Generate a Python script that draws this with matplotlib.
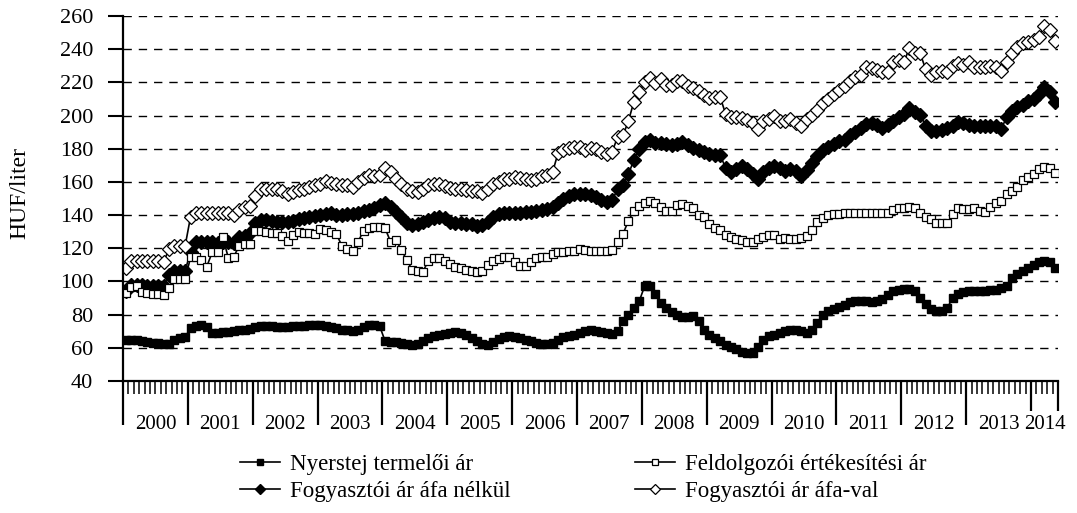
import numpy as np
import matplotlib.pyplot as plt
import matplotlib.transforms as mtransforms

plt.rcParams['font.family'] = ['Liberation Serif', 'DejaVu Serif']

years = ['2000', '2001', '2002', '2003', '2004', '2005', '2006', '2007',
         '2008', '2009', '2010', '2011', '2012', '2013', '2014']

# monthly prices, Jan 2000 - May 2014 (HUF/liter)
nyerstej = [
    65, 65, 64.5, 64, 63.5, 63, 63, 62.5, 62.5, 64.5, 66, 66.5,
    72, 73, 74, 72.5, 69, 69, 69.5, 69.5, 70, 70.5, 71, 71.5,
    72.5, 73, 73, 73, 72.5, 72.5, 72.5, 73, 73, 73, 73.5, 73.5,
    73.5, 73, 72.5, 72, 71, 70.5, 70, 70.5, 72.5, 74, 74, 73,
    64, 63.5, 63.5, 63, 62.5, 62, 62.5, 64, 66, 67, 68, 68.5,
    69, 69.5, 69, 67.5, 66, 64, 62.5, 62, 63.5, 65.5, 66.5, 67,
    66.5, 66, 65, 64, 63, 62.5, 62.5, 63, 64.5, 66.5, 67, 67.5,
    69, 70, 70.5, 70, 69.5, 69, 68.5, 70, 76, 80, 84, 88,
    97, 97, 92.5, 87, 84, 81.5, 80, 78.5, 78.5, 79, 76, 71,
    68, 66, 64, 62, 60.5, 59, 57.5, 57, 57, 60.5, 64.5, 67,
    68, 69, 70, 71, 70.5, 70, 69, 71, 75, 80, 82, 83.5,
    84.5, 86, 87.5, 88, 88.5, 88, 87.5, 88, 89.5, 92, 94, 95,
    95.5, 95.5, 94, 90, 86.5, 83.5, 82, 82, 84, 90, 92.5, 93.5,
    94, 94.5, 94.5, 94.5, 95, 95, 96, 97, 102, 104.5, 106.5, 108,
    110, 112, 112.5, 111.5, 108,
]

feldolgozoi = [
    93, 96.5, 97, 93.5, 93, 92.5, 92.5, 92, 96, 101.5, 101.5, 101.5,
    114.5, 115, 113, 109, 117.5, 118, 126.5, 114, 115, 121.5, 122.5, 122.5,
    130.5, 130.5, 130, 129.5, 129, 127.5, 124.5, 128, 130, 129.5, 129, 128.5,
    131.5, 131, 130, 128.5, 121.5, 119.5, 118.5, 124, 130.5, 132.5, 133, 133,
    132, 124, 125, 119, 113, 107, 106.5, 106, 112.5, 114, 114, 112.5,
    110.5, 109, 108, 107, 106.5, 105.5, 106.5, 110, 112.5, 113.5, 114.5, 114.5,
    112, 109.5, 109.5, 112, 114, 114.5, 115, 116.5, 117.5, 118, 118.5, 118.5,
    119.5, 119, 118.5, 118.5, 118.5, 118.5, 119, 123.5, 128.5, 136.5, 142.5, 145.5,
    147.5, 148.5, 147.5, 145, 142.5, 142.5, 146, 146.5, 145.5, 144.5, 140, 139,
    134.5, 132, 131, 128, 126.5, 125.5, 125, 124, 124, 125.5, 127, 128,
    128, 125.5, 126, 125.5, 125.5, 126, 127.5, 131, 136, 138.5, 140, 140.5,
    140.5, 141, 141, 141.5, 141.5, 141.5, 141.5, 141.5, 141.5, 141, 143, 144,
    144.5, 145, 144, 141.5, 139, 137.5, 135.5, 135.5, 135, 140.5, 144, 143.5,
    143.5, 144, 142.5, 142, 145, 147, 148.5, 152.5, 154.5, 157, 161, 163,
    164.5, 167.5, 169, 168.5, 165.5,
]

fogy_afa_nelkul = [
    94.5, 98, 98, 98, 97.5, 97.5, 97.5, 97.5, 104, 106.5, 106.5, 106.5,
    118, 123.5, 124, 123.5, 123.5, 123, 123.5, 123.5, 123, 126.5, 127.5, 129,
    135.5, 137, 137, 136.5, 136, 136, 136, 136.5, 137.5, 138, 139, 139.5,
    140, 140.5, 141, 140, 140, 140.5, 140.5, 141.5, 142.5, 143, 144.5, 146,
    147.5, 145, 142, 139, 135.5, 134, 134.5, 136, 137, 138.5, 139, 138,
    136, 135.5, 135.5, 134.8, 134.5, 133.5, 134, 136, 139, 140.5, 141, 141,
    141, 141.2, 141.8, 142, 142.2, 143, 143.5, 145, 147.5, 150, 151.5, 152.5,
    152.5, 152.5, 152, 151, 149, 148, 149, 155.5, 158, 164.5, 173, 180,
    184, 185, 183.5, 183.5, 183, 182.5, 183, 184, 182.5, 180.5, 179, 178,
    177, 176.5, 176, 168.5, 166, 167.5, 169.5, 168, 165, 161.5, 166, 168.5,
    169.5, 168.5, 166.5, 167.5, 166.5, 163.5, 167, 171.5, 175.5, 179, 181, 183,
    184.5, 185.5, 188, 190, 192.5, 195, 195.5, 194.5, 192.5, 194.5, 196.5, 199,
    201, 204.5, 202, 200.5, 194, 190.5, 190.5, 191.5, 192.5, 194, 196, 195.5,
    194.5, 194, 194, 194, 194, 193.5, 192, 199, 203, 205, 206.5, 208.5,
    210, 213, 217, 214, 208,
]

fogy_afa_val = [
    108, 112.5, 112.5, 112.5, 112.5, 112.5, 112.5, 111.5, 119.5, 121.5, 121.5, 121.5,
    139, 141, 141, 141, 141, 141, 141, 141, 140, 143, 145, 145.5,
    151.5, 156, 156, 156, 155.5, 154.5, 153, 154, 155, 155.5, 157, 158,
    159, 160.5, 159.5, 158.5, 158, 158, 157, 160, 162.5, 164, 163.5, 164,
    168.5, 166, 162, 159, 156, 154.5, 154, 155.5, 158, 159, 158.5, 157.5,
    156.5, 155.5, 155.5, 155, 154.5, 154.5, 153.5, 155.5, 158.5, 160, 161.5, 162,
    163, 162.5, 161.5, 161, 162, 163.5, 164, 166, 177.5, 179, 180.5, 181,
    181, 179.5, 180.5, 180, 178, 177, 178, 187, 188, 196.5, 208, 214,
    220, 222.5, 219.5, 222, 218.5, 218.5, 221, 221, 218, 216.5, 215, 212.5,
    210.5, 211, 211, 201, 199, 199, 198.5, 197.5, 195.5, 192, 196.5, 198,
    199.5, 197, 197, 198, 195.5, 193.5, 198, 200.5, 203.5, 207.5, 210, 213,
    215.5, 218, 221, 223.5, 224.5, 229, 228.5, 227.5, 226.5, 226, 232, 233.5,
    232, 241, 238, 237.5, 228, 224.5, 226, 227, 226.5, 230, 231.5, 230.5,
    232, 229.5, 229.5, 229.5, 230, 229, 227, 232.5, 237.5, 241.5, 243.5, 244.5,
    245.5, 247.5, 254, 251.5, 245,
]

n = len(nyerstej)
x = np.arange(n)

fig = plt.figure(figsize=(10.77, 5.13), dpi=100)
ax = fig.add_axes([123 / 1077, 132 / 513, 935 / 1077, 365 / 513])

s1, = ax.plot(x, nyerstej, '-', color='black', lw=1.2, marker='s', ms=5.8,
              mfc='black', mec='black', mew=1, label='Nyerstej termelői ár')
s3, = ax.plot(x, fogy_afa_nelkul, '-', color='black', lw=1.2, marker='D', ms=6.8,
              mfc='black', mec='black', mew=1, label='Fogyasztói ár áfa nélkül')
s2, = ax.plot(x, feldolgozoi, '-', color='black', lw=1.2, marker='s', ms=5.8,
              mfc='white', mec='black', mew=0.9, label='Feldolgozói értékesítési ár')
s4, = ax.plot(x, fogy_afa_val, '-', color='black', lw=1.2, marker='D', ms=6.8,
              mfc='white', mec='black', mew=0.9, label='Fogyasztói ár áfa-val')

ax.set_xlim(-0.5, n - 0.5)
ax.set_ylim(40, 260)
ax.set_yticks(np.arange(40, 261, 20))
ax.tick_params(axis='y', direction='out', length=10.5, width=1.5, labelsize=16, pad=11)

for v in np.arange(60, 261, 20):
    ax.axhline(v, color='black', lw=1.0, ls=(0, (6, 5)), zorder=0)

# x axis: month ticks and year boundaries
year_edges = np.arange(0, n, 12) - 0.5
ax.set_xticks(year_edges[:-1])
ax.set_xticks(np.arange(n + 1) - 0.5, minor=True)
ax.tick_params(axis='x', which='major', direction='out', length=32, width=1.6, labelbottom=False)
ax.tick_params(axis='x', which='minor', direction='out', length=9.5, width=1.1)

trans = mtransforms.blended_transform_factory(ax.transData, ax.transAxes)
ax.vlines([year_edges[-1], n - 0.5], -0.082, 0, transform=trans, color='black',
          lw=1.6, clip_on=False)

edges = list(year_edges) + [n - 0.5]
for k, yr in enumerate(years):
    mid = (edges[k] + edges[k + 1]) / 2
    ax.text(mid, -0.118, yr, transform=trans, ha='center', va='center', fontsize=15)

for side in ['top', 'right']:
    ax.spines[side].set_visible(False)
for side in ['left', 'bottom']:
    ax.spines[side].set_linewidth(1.6)

ax.set_ylabel('HUF/liter', fontsize=17)
ax.yaxis.set_label_coords(-0.099, 0.515)

fig.legend(handles=[s1, s3, s2, s4], loc='upper left', bbox_to_anchor=(240 / 1077, 1 - 454 / 513),
           ncol=2, frameon=False, fontsize=16.5, numpoints=1, handlelength=1.75,
           handletextpad=0.44, columnspacing=5.4, labelspacing=0.28,
           borderpad=0, borderaxespad=0, markerscale=0.8)

fig.savefig('out.png', dpi=100)
